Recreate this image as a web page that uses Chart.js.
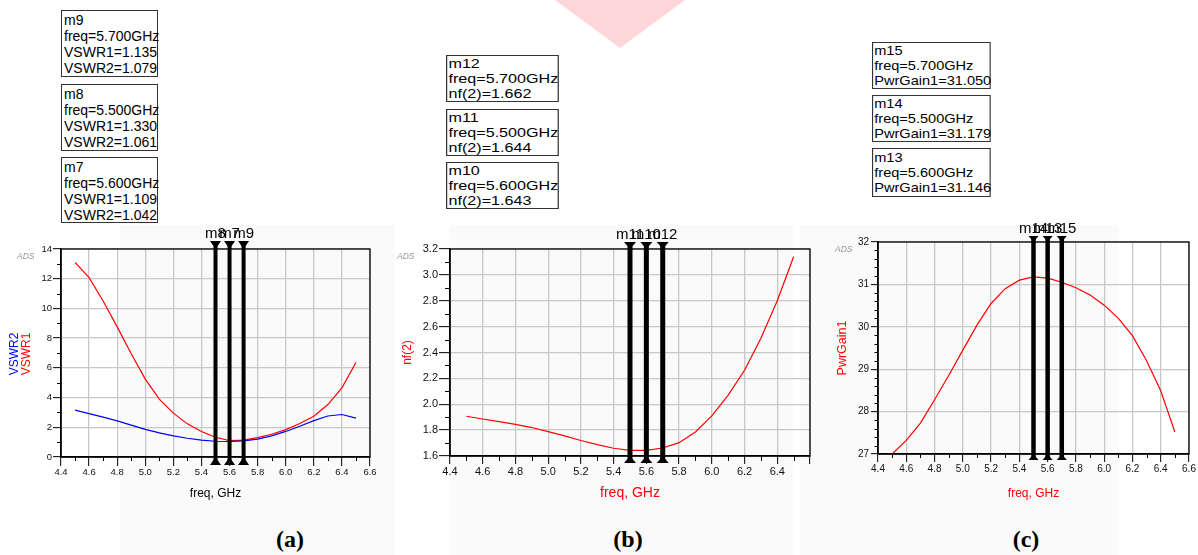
<!DOCTYPE html>
<html>
<head>
<meta charset="utf-8">
<script src="https://cdn.jsdelivr.net/npm/chart.js@4.4.1/dist/chart.umd.min.js"></script>
<style>
body{margin:0;width:1198px;height:555px;position:relative;overflow:hidden;background:#fff;font-family:"Liberation Sans",Arial,sans-serif}
.bg{position:absolute;background:#fafafa}
.box{position:absolute;border:1px solid #333;background:#fff;color:#000;box-sizing:border-box;transform-origin:0 0;white-space:nowrap}
.ads{position:absolute;font-style:italic;font-size:8.5px;color:#999}
.cap{position:absolute;font:bold 24px/24px "Liberation Serif","Times New Roman",serif;transform:translateX(-50%)}
.ytl{position:absolute;font-size:12px;white-space:nowrap;transform:translate(-50%,-50%) rotate(-90deg)}
canvas{position:absolute}
</style>
</head>
<body>
<div class="bg" style="left:120px;top:225px;width:275px;height:330px"></div>
<div class="bg" style="left:450px;top:225px;width:343px;height:330px"></div>
<div class="bg" style="left:800px;top:225px;width:318px;height:330px"></div>
<div style="position:absolute;left:555px;top:0;width:130px;height:48px;background:#ffd6d9;clip-path:polygon(0 0,100% 0,50% 100%)"></div>

<div class="box" style="left:61px;top:10px;width:97px;height:67px;font-size:14px;line-height:16px;padding:1px 0 0 2px">m9<br>freq=5.700GHz<br>VSWR1=1.135<br>VSWR2=1.079</div>
<div class="box" style="left:61px;top:84px;width:97px;height:67px;font-size:14px;line-height:16px;padding:1px 0 0 2px">m8<br>freq=5.500GHz<br>VSWR1=1.330<br>VSWR2=1.061</div>
<div class="box" style="left:61px;top:157px;width:97px;height:66px;font-size:14px;line-height:16px;padding:1px 0 0 2px">m7<br>freq=5.600GHz<br>VSWR1=1.109<br>VSWR2=1.042</div>

<div class="box" style="left:446px;top:55px;width:91px;height:47px;font-size:13px;line-height:15px;padding:0 0 0 1px;transform:scaleX(1.24)">m12<br>freq=5.700GHz<br>nf(2)=1.662</div>
<div class="box" style="left:446px;top:109px;width:91px;height:47px;font-size:13px;line-height:15px;padding:0 0 0 1px;transform:scaleX(1.24)">m11<br>freq=5.500GHz<br>nf(2)=1.644</div>
<div class="box" style="left:446px;top:162px;width:91px;height:47px;font-size:13px;line-height:15px;padding:0 0 0 1px;transform:scaleX(1.24)">m10<br>freq=5.600GHz<br>nf(2)=1.643</div>

<div class="box" style="left:872px;top:42px;width:106px;height:47px;font-size:13px;line-height:15px;padding:0 0 0 1px;transform:scaleX(1.12)">m15<br>freq=5.700GHz<br>PwrGain1=31.050</div>
<div class="box" style="left:872px;top:95px;width:106px;height:47px;font-size:13px;line-height:15px;padding:0 0 0 1px;transform:scaleX(1.12)">m14<br>freq=5.500GHz<br>PwrGain1=31.179</div>
<div class="box" style="left:872px;top:148px;width:106px;height:49px;font-size:13px;line-height:15px;padding:1px 0 0 1px;transform:scaleX(1.12)">m13<br>freq=5.600GHz<br>PwrGain1=31.146</div>

<canvas id="ca" width="400" height="285" style="left:0;top:225px"></canvas>
<canvas id="cb" width="430" height="285" style="left:390px;top:225px"></canvas>
<canvas id="cc" width="398" height="295" style="left:800px;top:215px"></canvas>

<div class="ytl" style="left:14px;top:354px;color:#0000ff">VSWR2</div>
<div class="ytl" style="left:25.5px;top:354px;color:#ff0000">VSWR1</div>

<div class="ads" style="left:17px;top:251px">ADS</div>
<div class="ads" style="left:397px;top:251px">ADS</div>
<div class="ads" style="left:835px;top:244px">ADS</div>

<div class="cap" style="left:290px;top:527px">(a)</div>
<div class="cap" style="left:628px;top:527px">(b)</div>
<div class="cap" style="left:1026px;top:527px">(c)</div>

<script>
const FONT = '"Liberation Sans", Arial, sans-serif';

// sweep points, GHz
const freqs = [4.5, 4.6, 4.7, 4.8, 4.9, 5.0, 5.1, 5.2, 5.3, 5.4, 5.5, 5.6, 5.7, 5.8, 5.9, 6.0, 6.1, 6.2, 6.3, 6.4, 6.5];
const vswr1 = [13.1, 12.07, 10.5, 8.76, 6.95, 5.24, 3.9, 2.95, 2.23, 1.72, 1.33, 1.109, 1.135, 1.3, 1.53, 1.84, 2.25, 2.74, 3.53, 4.65, 6.36];
const vswr2 = [3.15, 2.92, 2.68, 2.43, 2.15, 1.86, 1.62, 1.42, 1.26, 1.14, 1.061, 1.042, 1.079, 1.2, 1.42, 1.72, 2.07, 2.45, 2.76, 2.86, 2.62];
const nf2 = [1.907, 1.886, 1.866, 1.845, 1.82, 1.788, 1.755, 1.72, 1.688, 1.66, 1.644, 1.643, 1.662, 1.703, 1.786, 1.91, 2.07, 2.263, 2.51, 2.8, 3.14];
const pwrGain1 = [27.0, 27.32, 27.73, 28.28, 28.85, 29.45, 30.04, 30.55, 30.9, 31.1, 31.179, 31.146, 31.05, 30.92, 30.75, 30.51, 30.2, 29.79, 29.2, 28.49, 27.52];

// markers
const markerFreqs = [5.5, 5.6, 5.7];
const markersA = ['m8', 'm7', 'm9'];
const markersB = ['m11', 'm10', 'm12'];
const markersC = ['m14', 'm13', 'm15'];

// minor tick positions
const xMinor = [4.5, 4.7, 4.9, 5.1, 5.3, 5.5, 5.7, 5.9, 6.1, 6.3, 6.5];
const yMinorA = [1, 3, 5, 7, 9, 11, 13];
const yMinorB = [1.7, 1.9, 2.1, 2.3, 2.5, 2.7, 2.9, 3.1];
const yMinorC = [27.2, 27.4, 27.6, 27.8, 28.2, 28.4, 28.6, 28.8, 29.2, 29.4, 29.6, 29.8, 30.2, 30.4, 30.6, 30.8, 31.2, 31.4, 31.6, 31.8];

const minorTickPlugin = {
    id: 'minorTicks',
    afterDatasetsDraw(chart, args, o) {
        const {ctx, chartArea: a, scales: {x, y}} = chart;
        ctx.save();
        ctx.strokeStyle = '#000';
        ctx.lineWidth = 1;
        ctx.beginPath();
        o.x.forEach(v => {
            const px = Math.round(x.getPixelForValue(v)) + 0.5;
            ctx.moveTo(px, a.bottom);
            ctx.lineTo(px, a.bottom + o.xLen);
        });
        o.y.forEach(v => {
            const py = Math.round(y.getPixelForValue(v)) + 0.5;
            ctx.moveTo(a.left, py);
            ctx.lineTo(a.left - o.yLen, py);
        });
        ctx.stroke();
        ctx.restore();
    }
};

const framePlugin = {
    id: 'frame',
    afterDatasetsDraw(chart) {
        const {ctx, chartArea: a} = chart;
        ctx.save();
        ctx.strokeStyle = '#000';
        ctx.lineWidth = 1.3;
        ctx.strokeRect(a.left, a.top, a.right - a.left, a.bottom - a.top);
        ctx.restore();
    }
};

const markerPlugin = {
    id: 'markers',
    afterDatasetsDraw(chart, args, o) {
        const {ctx, chartArea: a, scales: {x}} = chart;
        ctx.save();
        ctx.fillStyle = '#000';
        ctx.strokeStyle = '#000';
        ctx.font = '15px ' + FONT;
        ctx.textAlign = 'center';
        o.freqs.forEach((f, i) => {
            const px = x.getPixelForValue(f);
            ctx.lineWidth = o.lineWidth;
            ctx.beginPath();
            ctx.moveTo(px, a.top - o.triH);
            ctx.lineTo(px, a.bottom + o.triH);
            ctx.stroke();
            ctx.beginPath();
            ctx.moveTo(px - o.triW / 2, a.top - o.triH);
            ctx.lineTo(px + o.triW / 2, a.top - o.triH);
            ctx.lineTo(px, a.top);
            ctx.closePath();
            ctx.fill();
            ctx.beginPath();
            ctx.moveTo(px - o.triW / 2, a.bottom + o.triH);
            ctx.lineTo(px + o.triW / 2, a.bottom + o.triH);
            ctx.lineTo(px, a.bottom);
            ctx.closePath();
            ctx.fill();
            ctx.fillText(o.names[i], px, a.top - o.triH - o.gap);
        });
        ctx.restore();
    }
};

function lineSet(values, color) {
    return {
        data: freqs.map((f, i) => ({x: f, y: values[i]})),
        borderColor: color,
        borderWidth: 1.2,
        pointRadius: 0,
        tension: 0,
        fill: false
    };
}

function makeChart(id, datasets, s) {
    return new Chart(document.getElementById(id), {
        type: 'line',
        data: {datasets: datasets},
        options: {
            responsive: false,
            animation: false,
            layout: {padding: {top: s.padTop, right: s.padRight, left: 0, bottom: 0}},
            plugins: {
                legend: {display: false},
                tooltip: {enabled: false},
                minorTicks: {x: xMinor, y: s.yMinor, xLen: s.xMinorLen, yLen: s.yMinorLen},
                markers: {freqs: markerFreqs, names: s.names, lineWidth: s.mLine, triW: s.triW, triH: s.triH, gap: 3}
            },
            scales: {
                x: {
                    type: 'linear', min: 4.4, max: 6.6,
                    afterFit: sc => { sc.height = s.xHeight; },
                    ticks: {
                        stepSize: 0.2, autoSkip: false, maxRotation: 0, color: '#111',
                        padding: s.xPad, font: {family: FONT, size: s.tickSize},
                        callback: v => (s.hideLastX && v > 6.55) ? '' : v.toFixed(1)
                    },
                    grid: {color: '#c8c8c8', lineWidth: 1.3, tickColor: '#000', tickWidth: 1, tickLength: s.xTick},
                    border: {color: '#000', width: 1.5},
                    title: {display: true, text: 'freq, GHz', color: s.xTitleColor,
                        font: {family: FONT, size: s.xTitleSize}, padding: {top: 0, bottom: s.xTitlePad}}
                },
                y: {
                    min: s.yMin, max: s.yMax,
                    afterFit: sc => { sc.width = s.yWidth; },
                    ticks: {
                        stepSize: s.yStep, color: '#111', padding: s.yPad,
                        font: {family: FONT, size: s.tickSize},
                        callback: v => v.toFixed(s.yDec)
                    },
                    grid: {color: '#c8c8c8', lineWidth: 1.3, tickColor: '#000', tickWidth: 1, tickLength: s.yTick},
                    border: {color: '#000', width: 1.5},
                    title: {display: !!s.yTitle, text: s.yTitle || '', color: '#ff0000',
                        font: {family: FONT, size: s.yTitleSize || 12}, padding: {top: s.yTitlePad || 0, bottom: 0}}
                }
            }
        },
        plugins: [minorTickPlugin, framePlugin, markerPlugin]
    });
}

makeChart('ca', [lineSet(vswr2, '#0000ff'), lineSet(vswr1, '#ff0000')], {
    padTop: 24, padRight: 30, xHeight: 53, yWidth: 61,
    tickSize: 9.5, xPad: 1, xTick: 9, yTick: 8, yPad: 1, xMinorLen: 4, yMinorLen: 4,
    xTitleColor: '#000', xTitleSize: 12, xTitlePad: 9,
    yMin: 0, yMax: 14, yStep: 2, yDec: 0, yMinor: yMinorA,
    names: markersA, mLine: 4, triW: 11, triH: 8
});

makeChart('cb', [lineSet(nf2, '#ff0000')], {
    padTop: 24, padRight: 10, xHeight: 54, yWidth: 60, hideLastX: true,
    tickSize: 11, xPad: 1, xTick: 8, yTick: 11, yPad: 1, xMinorLen: 5, yMinorLen: 5,
    xTitleColor: '#ff0000', xTitleSize: 14, xTitlePad: 8.6,
    yMin: 1.6, yMax: 3.2, yStep: 0.2, yDec: 1, yMinor: yMinorB,
    yTitle: 'nf(2)', yTitleSize: 12, yTitlePad: 10,
    names: markersB, mLine: 5, triW: 12, triH: 7
});

makeChart('cc', [lineSet(pwrGain1, '#ff0000')], {
    padTop: 27, padRight: 9, xHeight: 56, yWidth: 78,
    tickSize: 10, xPad: 1, xTick: 8, yTick: 7, yPad: 2, xMinorLen: 4, yMinorLen: 3.5,
    xTitleColor: '#ff0000', xTitleSize: 12, xTitlePad: 8.8,
    yMin: 27, yMax: 32, yStep: 1, yDec: 0, yMinor: yMinorC,
    yTitle: 'PwrGain1', yTitleSize: 12.5, yTitlePad: 35.5,
    names: markersC, mLine: 4.5, triW: 10, triH: 6
});
</script>
</body>
</html>
